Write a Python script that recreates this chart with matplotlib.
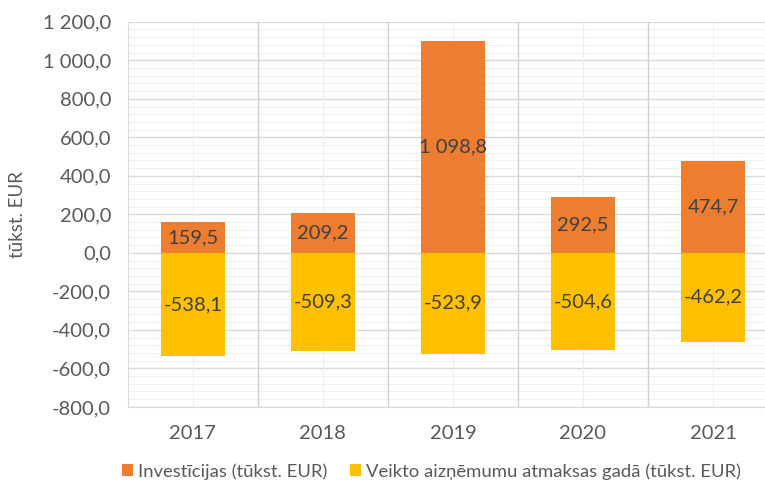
import matplotlib
matplotlib.use("Agg")
import matplotlib.pyplot as plt
import numpy as np
from matplotlib.ticker import FuncFormatter, MultipleLocator

years = ["2017", "2018", "2019", "2020", "2021"]
investicijas = [159.5, 209.2, 1098.8, 292.5, 474.7]
atmaksas = [-538.1, -509.3, -523.9, -504.6, -462.2]

label_inv = "Investīcijas (tūkst. EUR)"
label_atm = "Veikto aizņēmumu atmaksas gadā (tūkst. EUR)"

orange = "#ED7D31"
yellow = "#FFC000"
grey = "#595959"


def lv_fmt(v):
    s = f"{abs(v):,.1f}".replace(",", " ").replace(".", ",")
    return ("-" if v < 0 else "") + s


plt.rcParams["font.family"] = ["Lato", "DejaVu Sans"]

fig = plt.figure(figsize=(7.65, 4.95), dpi=100)
ax = fig.add_axes([0.167, 0.178, 0.833, 0.778])

x = np.arange(len(years))
w = 0.49
ax.bar(x, investicijas, w, color=orange, label=label_inv, zorder=3)
ax.bar(x, atmaksas, w, color=yellow, label=label_atm, zorder=3)

for xi, v in zip(x, investicijas):
    ax.text(xi, v / 2, lv_fmt(v), ha="center", va="center", fontsize=14.5, color="#404040", zorder=4)
for xi, v in zip(x, atmaksas):
    ax.text(xi, v / 2, lv_fmt(v), ha="center", va="center", fontsize=14.5, color="#404040", zorder=4)

ax.set_ylim(-800, 1200)
ax.set_xlim(-0.5, 4.4)
ax.yaxis.set_major_locator(MultipleLocator(200))
ax.yaxis.set_minor_locator(MultipleLocator(40))
ax.yaxis.set_major_formatter(FuncFormatter(lambda v, p: lv_fmt(v)))
ax.set_xticks(x)
ax.set_xticklabels(years)

# light horizontal grid, minor every 40
ax.grid(which="minor", axis="y", color="#f0f0f0", lw=0.8, zorder=0)
ax.grid(which="major", axis="y", color="#d9d9d9", lw=1, zorder=0)
ax.set_axisbelow(True)
# vertical lines: category boundaries darker, centres lighter
for b in np.arange(0.5, len(years), 1):
    ax.axvline(b, color="#d0d0d0", lw=1, zorder=1)
for c in x:
    ax.axvline(c, color="#eeeeee", lw=0.8, zorder=1)

for s in ax.spines.values():
    s.set_visible(False)
ax.spines["left"].set_visible(True)
ax.spines["left"].set_color("#d9d9d9")
ax.spines["bottom"].set_visible(True)
ax.spines["bottom"].set_color("#d9d9d9")

ax.tick_params(which="both", length=0, labelsize=14.5, colors=grey)
ax.tick_params(axis="y", pad=12)
ax.tick_params(axis="x", pad=13)
ax.set_ylabel("tūkst. EUR", fontsize=13.5, color=grey, labelpad=12)

fig.legend(loc="center", bbox_to_anchor=(0.564, 0.048), ncol=2, frameon=False,
           fontsize=13.3, labelcolor=grey, handlelength=0.6, handleheight=0.6,
           handletextpad=0.3, columnspacing=1.2)

fig.savefig("out.png", dpi=100)
